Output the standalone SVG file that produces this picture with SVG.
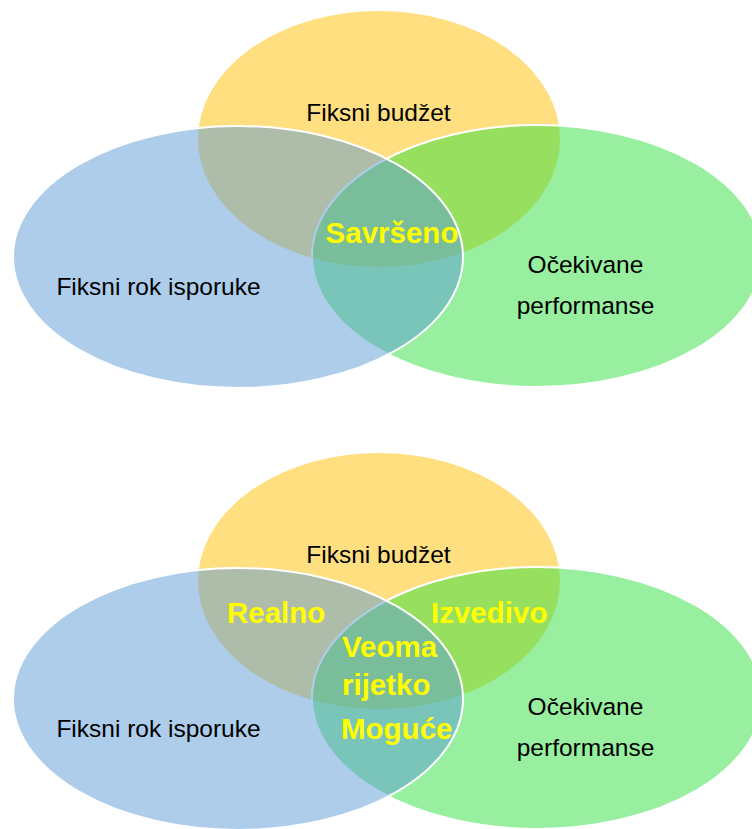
<svg xmlns="http://www.w3.org/2000/svg" width="752" height="829" viewBox="0 0 752 829">
  <style>
    .e { stroke: #ffffff; stroke-width: 2; fill-opacity: 0.5; }
    .y { fill: #FFC000; }
    .g { fill: #30E040; }
    .b { fill: #5B9BD5; }
    .lbl { font-family: "Liberation Sans", Arial, sans-serif; font-size: 24.5px; fill: #000000; text-anchor: middle; }
    .hl { font-family: "Liberation Sans", Arial, sans-serif; font-size: 29.5px; font-weight: bold; fill: #FFFF00; }
  </style>
  <rect width="752" height="829" fill="#ffffff"/>

  <g id="venn-top">
    <g id="top-budget">
      <ellipse class="e y" cx="379" cy="139" rx="182" ry="129"/>
    </g>
    <g id="top-performance">
      <ellipse class="e g" cx="537" cy="256" rx="225" ry="131"/>
    </g>
    <g id="top-deadline">
      <ellipse class="e b" cx="238" cy="257" rx="225" ry="131"/>
    </g>
    <g id="top-labels">
      <text class="lbl" x="378.5" y="121">Fiksni budžet</text>
      <text class="lbl" x="158.5" y="295">Fiksni rok isporuke</text>
      <text class="lbl" x="585.5" y="273">Očekivane</text>
      <text class="lbl" x="585.5" y="314">performanse</text>
      <text class="hl" x="392" y="243" text-anchor="middle">Savršeno</text>
    </g>
  </g>

  <g id="venn-bottom">
    <g id="bottom-budget">
      <ellipse class="e y" cx="379" cy="581" rx="182" ry="129"/>
    </g>
    <g id="bottom-performance">
      <ellipse class="e g" cx="537" cy="698" rx="225" ry="131"/>
    </g>
    <g id="bottom-deadline">
      <ellipse class="e b" cx="238" cy="699" rx="225" ry="131"/>
    </g>
    <g id="bottom-labels">
      <text class="lbl" x="378.5" y="563">Fiksni budžet</text>
      <text class="lbl" x="158.5" y="737">Fiksni rok isporuke</text>
      <text class="lbl" x="585.5" y="715">Očekivane</text>
      <text class="lbl" x="585.5" y="756">performanse</text>
      <text class="hl" x="227" y="623">Realno</text>
      <text class="hl" x="431" y="623">Izvedivo</text>
      <text class="hl" x="342" y="657">Veoma</text>
      <text class="hl" x="342" y="695">rijetko</text>
      <text class="hl" x="341" y="739">Moguće</text>
    </g>
  </g>

  <g id="connectors"></g>
</svg>
